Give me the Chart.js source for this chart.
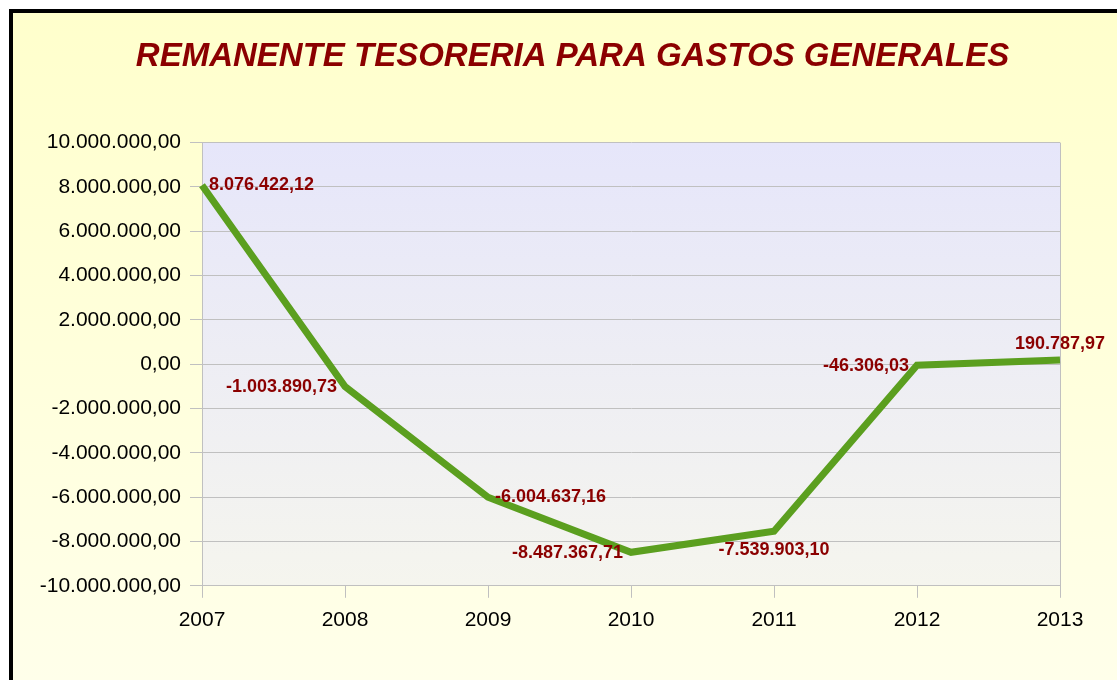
<!DOCTYPE html>
<html lang="es">
<head>
<meta charset="UTF-8">
<title>Remanente Tesoreria para Gastos Generales</title>
<script src="https://cdn.jsdelivr.net/npm/chart.js@4.4.1/dist/chart.umd.min.js"></script>
<style>
    html, body {
        margin: 0;
        padding: 0;
        background: #ffffff;
        overflow: hidden;
    }
    .frame {
        position: absolute;
        left: 9px;
        top: 9px;
        width: 1200px;
        height: 800px;
        border: 4px solid #000;
        background: linear-gradient(to bottom, #ffffcc 0%, #fffff0 100%);
    }
    .chart-box {
        position: absolute;
        left: 0;
        top: 0;
        width: 1140px;
        height: 680px;
    }
</style>
</head>
<body>
<div class="frame"></div>
<div class="chart-box"><canvas id="remanente"></canvas></div>

<script>
// datos del grafico
const years = ['2007', '2008', '2009', '2010', '2011', '2012', '2013'];
const remanente = [8076422.12, -1003890.73, -6004637.16, -8487367.71, -7539903.10, -46306.03, 190787.97];
const yMin = -10000000;
const yMax = 10000000;
const yStep = 2000000;

// formato 1.234.567,89
function fmt(v) {
    const neg = v < 0;
    const parts = Math.abs(v).toFixed(2).split('.');
    const ent = parts[0].replace(/\B(?=(\d{3})+(?!\d))/g, '.');
    return (neg ? '-' : '') + ent + ',' + parts[1];
}

const FONT = '"Liberation Sans", Arial, sans-serif';

// fondo del area de trazado
const plotBg = {
    id: 'plotBg',
    beforeDraw(chart) {
        const { ctx, chartArea: a } = chart;
        const g = ctx.createLinearGradient(0, a.top, 0, a.bottom);
        g.addColorStop(0, '#e6e6fa');
        g.addColorStop(1, '#f5f5ee');
        ctx.save();
        ctx.fillStyle = g;
        ctx.fillRect(a.left, a.top, a.right - a.left, a.bottom - a.top);
        ctx.strokeStyle = '#c0c0c0';
        ctx.lineWidth = 1;
        ctx.beginPath();
        ctx.moveTo(a.right + 0.5, a.top);
        ctx.lineTo(a.right + 0.5, a.bottom);
        ctx.stroke();
        ctx.restore();
    }
};

// etiquetas de valores
const valueLabels = {
    id: 'valueLabels',
    afterDatasetsDraw(chart, args, opts) {
        const { ctx } = chart;
        const meta = chart.getDatasetMeta(0);
        ctx.save();
        ctx.font = 'bold 18px ' + FONT;
        ctx.fillStyle = '#8b0000';
        ctx.textBaseline = 'middle';
        meta.data.forEach((pt, i) => {
            const txt = fmt(chart.data.datasets[0].data[i]);
            const pos = opts.place[i];
            let x = pt.x, y = pt.y;
            if (pos === 'right') { ctx.textAlign = 'left'; x += 7; }
            else if (pos === 'left') { ctx.textAlign = 'right'; x -= 8; y += 1; }
            else if (pos === 'below') { ctx.textAlign = 'center'; y += 19; }
            else { ctx.textAlign = 'center'; y -= 16; }
            ctx.fillText(txt, x, y);
        });
        ctx.restore();
    }
};

const ctx = document.getElementById('remanente').getContext('2d');
new Chart(ctx, {
    type: 'line',
    data: {
        labels: years,
        datasets: [{
            data: remanente,
            borderColor: '#5b9f1f',
            borderWidth: 7,
            pointRadius: 0,
            pointHoverRadius: 0,
            tension: 0,
            fill: false
        }]
    },
    options: {
        responsive: true,
        maintainAspectRatio: false,
        animation: false,
        layout: {
            padding: { left: 13, right: 8, top: 0, bottom: 37 }
        },
        plugins: {
            legend: { display: false },
            tooltip: { enabled: false },
            title: {
                display: true,
                text: 'REMANENTE TESORERIA PARA GASTOS GENERALES',
                color: '#8b0000',
                font: { family: FONT, size: 33, weight: 'bold', style: 'italic' },
                padding: { top: 37, bottom: 66 }
            },
            valueLabels: {
                place: ['right', 'left', 'right', 'left', 'below', 'left', 'above']
            }
        },
        scales: {
            x: {
                offset: false,
                grid: {
                    drawOnChartArea: false,
                    drawTicks: true,
                    tickLength: 12,
                    color: '#c0c0c0'
                },
                border: { color: '#c0c0c0' },
                ticks: {
                    color: '#000',
                    padding: 10,
                    maxRotation: 0,
                    font: { family: FONT, size: 21 }
                }
            },
            y: {
                min: yMin,
                max: yMax,
                afterFit(scale) { scale.width = 189; },
                grid: {
                    color: '#c0c0c0',
                    tickLength: 12
                },
                border: { color: '#c0c0c0' },
                ticks: {
                    stepSize: yStep,
                    color: '#000',
                    padding: 9,
                    font: { family: FONT, size: 21 },
                    callback: (v) => fmt(v)
                }
            },
            // eje vacio a la derecha: deja el margen derecho del grafico
            yRight: {
                position: 'right',
                min: yMin,
                max: yMax,
                grid: { display: false },
                border: { display: false },
                ticks: { display: false },
                afterFit(scale) { scale.width = 72; }
            }
        }
    },
    plugins: [plotBg, valueLabels]
});
</script>
</body>
</html>
